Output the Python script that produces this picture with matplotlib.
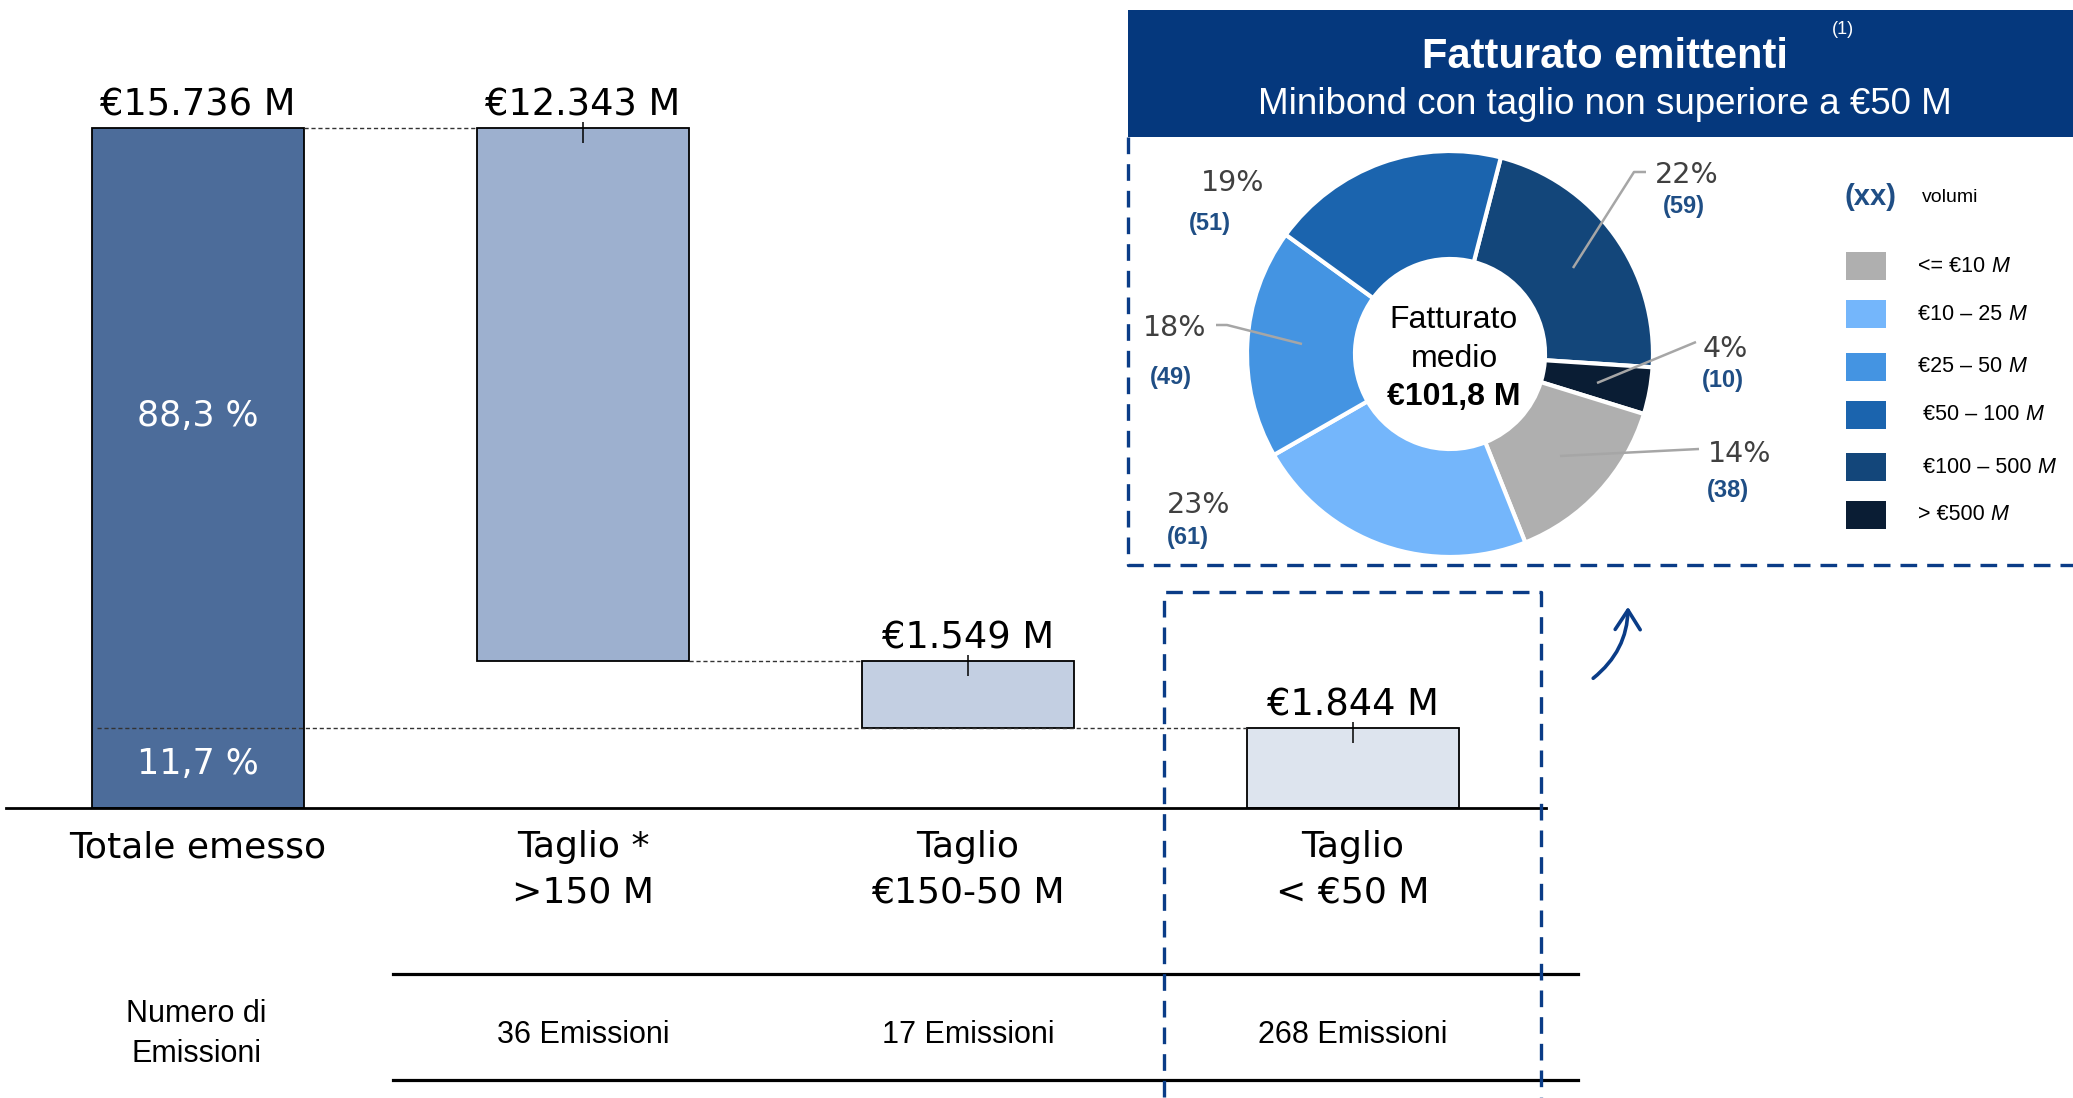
import matplotlib
matplotlib.use("Agg")
import matplotlib.pyplot as plt
from matplotlib.patches import Rectangle, FancyArrowPatch
from matplotlib.lines import Line2D
import matplotlib.transforms as mtransforms

# ---------------- data ----------------
categories = ["Totale emesso", "Taglio *\n>150 M", "Taglio\n€150-50 M", "Taglio\n< €50 M"]
amounts = [15736, 12343, 1549, 1844]
amount_labels = ["€15.736 M", "€12.343 M", "€1.549 M", "€1.844 M"]
share_labels = ["88,3 %", "11,7 %"]
emission_counts = [36, 17, 268]
row_title = "Numero di\nEmissioni"

pie_title = "Fatturato emittenti"
pie_subtitle = "Minibond con taglio non superiore a €50 M"
pie_note = "(1)"
center_lines = ["Fatturato", "medio", "€101,8 M"]
bands = ["<= €10 M", "€10 – 25 M", "€25 – 50 M", "€50 – 100 M", "€100 – 500 M", "> €500 M"]
volumes = [38, 61, 49, 51, 59, 10]
percents = [14, 23, 18, 19, 22, 4]

# ---------------- style / layout ----------------
W, H, DPI = 2073, 1098, 100
SANS_V = ["DejaVu Sans"]
SANS_A = ["Liberation Sans", "DejaVu Sans"]
bar_colors = ["#4C6C9A", "#9DB0CF", "#C3CFE2", "#DDE4EE"]
band_colors = ["#AFAFAF", "#74B6FB", "#4494E2", "#1B64AE", "#13467A", "#0A1D34"]
NAVY = "#05387D"
DASH_BLUE = "#0A3C87"
VOL_BLUE = "#1F4E85"
PCT_GREY = "#404040"

fig = plt.figure(figsize=(W / DPI, H / DPI), dpi=DPI)


def fx(x):
    return x / W


def fy(y):
    return 1 - y / H


PX2PT = 72 / DPI

# ---------------- waterfall ----------------
base_px, top_px = 808, 128
ax_l, ax_r = 5.5, 1545.5
ax = fig.add_axes([fx(ax_l), fy(base_px), (ax_r - ax_l) / W, base_px / H])
total = amounts[0]
ax.set_xlim(-0.5, 3.5)
ax.set_ylim(0, total * base_px / (base_px - top_px))
ax.set_facecolor("none")
per_px = total / (base_px - top_px)

bw = 0.553
bottoms = [0, total - amounts[1], total - amounts[1] - amounts[2], 0]
xs = list(range(len(amounts)))
ax.bar(xs, amounts, bottom=bottoms, width=bw, color=bar_colors,
       edgecolor="black", linewidth=1.3, zorder=2)

for s in ["top", "right", "left"]:
    ax.spines[s].set_visible(False)
ax.spines["bottom"].set_linewidth(2.0)
ax.spines["bottom"].set_zorder(4)
ax.set_yticks([])
ax.set_xticks(xs, categories)
ax.tick_params(axis="x", length=0, pad=16)
for t in ax.get_xticklabels():
    t.set_fontfamily(SANS_V)
    t.set_fontsize(26)
    t.set_linespacing(1.42)

# value labels and small markers
tops = [b + a for a, b in zip(amounts, bottoms)]
for i, (tp, lab) in enumerate(zip(tops, amount_labels)):
    ax.annotate(lab, (i, tp), xytext=(0, 13 * PX2PT), textcoords="offset points",
                ha="center", va="baseline", fontsize=26.5, family=SANS_V, zorder=5)
    if i > 0:
        ax.vlines(i, tp - 15 * per_px, tp + 6 * per_px, color="black", lw=1.1, zorder=5)

# connectors
conn = dict(color="#333333", lw=1.0, linestyle=(0, (3, 2)), zorder=3)
ax.plot([0 + bw / 2, 1 - bw / 2], [tops[0], tops[0]], **conn)
ax.plot([1 + bw / 2, 2 - bw / 2], [bottoms[1], bottoms[1]], **conn)
ax.plot([0 - bw / 2 + 0.015, 3 - bw / 2], [amounts[3], amounts[3]], **conn)

# shares inside first bar
ax.annotate(share_labels[0], (0, (amounts[3] + total) / 2), xytext=(0, 12 * PX2PT),
            textcoords="offset points", ha="center", va="center",
            fontsize=25, color="white", family=SANS_V, zorder=5)
ax.annotate(share_labels[1], (0, amounts[3] / 2), xytext=(0, 4 * PX2PT),
            textcoords="offset points", ha="center", va="center",
            fontsize=25, color="white", family=SANS_V, zorder=5)

# table of emission counts
tb = mtransforms.blended_transform_factory(ax.transData, fig.transFigure)
for yl in (974, 1080):
    fig.add_artist(Line2D([fx(393), fx(1578)], [fy(yl), fy(yl)], color="black", lw=2.3,
                          transform=fig.transFigure))
fig.text(fx(196), fy(1034), row_title, ha="center", va="center", fontsize=22,
         family=SANS_A, linespacing=1.4)
for i, n in enumerate(emission_counts):
    ax.text(i + 1, fy(1035), f"{n} Emissioni", transform=tb, ha="center", va="center",
            fontsize=22, family=SANS_A)

# lower dashed box
dash = dict(color=DASH_BLUE, lw=2.4, linestyle=(0, (5, 3)), transform=fig.transFigure,
            zorder=6)
fig.add_artist(Line2D([fx(1164), fx(1164), fx(1541), fx(1541)],
                      [fy(1097), fy(592), fy(592), fy(1097)], **dash))

# ---------------- header ----------------
fig.add_artist(Rectangle((fx(1128), fy(137)), fx(2073) - fx(1128), fy(10) - fy(137),
                         transform=fig.transFigure, facecolor=NAVY, edgecolor="none"))
fig.text(fx(1605), fy(57), pie_title, ha="center", va="center", color="white",
         fontsize=30, fontweight="bold", family=SANS_A)
fig.text(fx(1605), fy(105), pie_subtitle, ha="center", va="center", color="white",
         fontsize=26.5, family=SANS_A)
fig.text(fx(1843), fy(30), pie_note, ha="center", va="center", color="white",
         fontsize=13, family=SANS_A)

# upper dashed box
fig.add_artist(Line2D([fx(1128), fx(1128), fx(2075)], [fy(137), fy(565), fy(565)], **dash))

# ---------------- donut ----------------
cx, cy, R = 1450, 354, 203
L = 1.6
side = 2 * L * R
pax = fig.add_axes([fx(cx - side / 2), fy(cy + side / 2), side / W, side / H])
order = [4, 5, 0, 1, 2, 3]
pax.pie([volumes[i] for i in order], colors=[band_colors[i] for i in order],
        startangle=75.5, counterclock=False, radius=1,
        wedgeprops=dict(width=(R - 95) / R, edgecolor="white", linewidth=3))
pax.set_xlim(-L, L)
pax.set_ylim(-L, L)
pax.set_aspect("equal")
pax.axis("off")


def P(x, y):
    return ((x - cx) / R, (cy - y) / R)


# label positions (pixel layout), per band index
pct_pos = {0: (1740, 454), 1: (1199, 505), 2: (1175, 328), 3: (1233, 183), 4: (1687, 175), 5: (1725, 349)}
vol_pos = {0: (1728, 491), 1: (1188, 538), 2: (1171, 378), 3: (1210, 224), 4: (1684, 207), 5: (1723, 381)}
leaders = {
    0: [(1560, 456), (1699, 449)],
    2: [(1302, 344), (1227, 325), (1216, 325)],
    4: [(1573, 268), (1634, 172), (1646, 172)],
    5: [(1597, 383), (1696, 342)],
}
for i in range(len(volumes)):
    px_, py_ = P(*pct_pos[i])
    pax.text(px_, py_, f"{percents[i]}%", ha="center", va="center", fontsize=20.5,
             color=PCT_GREY, family=SANS_V)
    vx, vy = P(*vol_pos[i])
    pax.text(vx, vy, f"({volumes[i]})", ha="center", va="center", fontsize=17,
             color=VOL_BLUE, fontweight="bold", family=SANS_A)
for i, pts in leaders.items():
    xy = [P(*p) for p in pts]
    pax.plot([p[0] for p in xy], [p[1] for p in xy], color="#A6A6A6", lw=1.8,
             solid_capstyle="butt")

for k, (line, yy) in enumerate(zip(center_lines, (320, 359, 397))):
    fig.text(fx(1454), fy(yy), line, ha="center", va="center", fontsize=23,
             family=SANS_A, fontweight="bold" if k == 2 else "normal")

# legend
fig.text(fx(1845), fy(197), "(xx)", ha="left", va="center", fontsize=21,
         fontweight="bold", color=VOL_BLUE, family=SANS_A)
fig.text(fx(1922), fy(197), "volumi", ha="left", va="center", fontsize=14, family=SANS_A)
leg_y = [266, 314, 367, 415, 467, 515]
leg_x = [1918, 1918, 1918, 1923, 1923, 1918]
for i, (lab, yy, xx) in enumerate(zip(bands, leg_y, leg_x)):
    fig.add_artist(Rectangle((fx(1846), fy(yy + 14)), 40 / W, 28 / H,
                             transform=fig.transFigure, facecolor=band_colors[i],
                             edgecolor="none"))
    head, unit = lab.rsplit(" ", 1)
    t = fig.text(fx(xx), fy(yy), head + " ", ha="left", va="center", fontsize=15.5,
                 family=SANS_A)
    fig.add_artist(matplotlib.text.Annotation(unit, xy=(1, 0.5), xycoords=t,
                                              ha="left", va="center", fontsize=15.5,
                                              style="italic", family=SANS_A))

# arrow
fig.add_artist(FancyArrowPatch(posA=(fx(1591), fy(680)), posB=(fx(1628), fy(604)),
                               transform=fig.transFigure,
                               connectionstyle="arc3,rad=0.25",
                               arrowstyle="->,head_length=0.7,head_width=0.45",
                               mutation_scale=20, lw=2.6, color=DASH_BLUE))

fig.savefig("out.png", dpi=DPI)
